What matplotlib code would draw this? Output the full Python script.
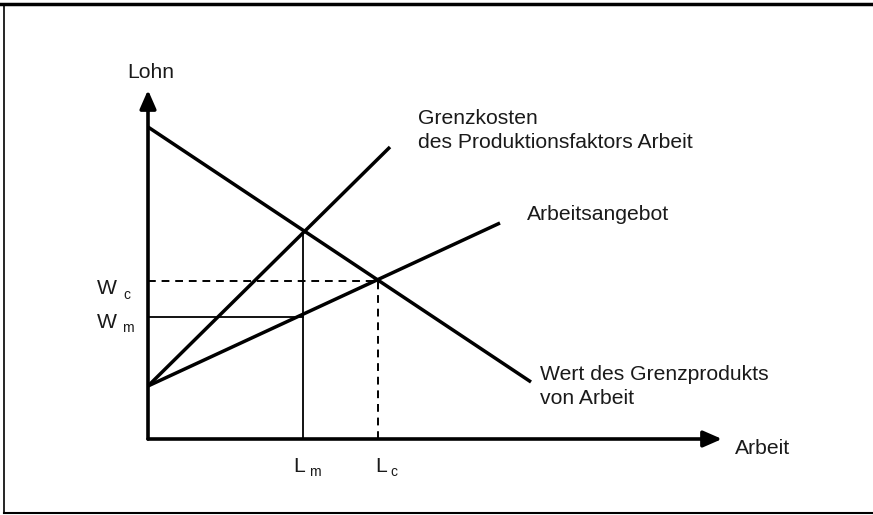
import matplotlib.pyplot as plt
from matplotlib.lines import Line2D

plt.rcParams['font.family'] = ['Liberation Sans', 'DejaVu Sans']

# curve end points (arbitrary units, origin at the axis corner)
demand_x = [0, 383]
demand_y = [312, 57]
supply_x = [0, 352]
supply_y = [53, 216]
mc_x = [0, 242]
mc_y = [53, 292]

L_m, L_c = 155, 230
W_m, W_c = 122, 158
mc_at_Lm = 209

x_end = 574
y_end = 349

fig = plt.figure(figsize=(8.73, 5.15), dpi=100)
ax = fig.add_axes([0, 0, 1, 1])
ax.set_xlim(-148, 725)
ax.set_ylim(-76, 439)
ax.axis("off")

# outer frame (top, left, bottom)
fig.add_artist(Line2D([0, 1], [0.992, 0.992], transform=fig.transFigure, color="black", lw=2.5))
fig.add_artist(Line2D([0.005, 0.005], [0.004, 0.992], transform=fig.transFigure, color="black", lw=1.2))
fig.add_artist(Line2D([0.005, 1], [0.004, 0.004], transform=fig.transFigure, color="black", lw=1.5))

# axes with arrows
arrow = dict(arrowstyle="-|>,head_length=0.8,head_width=0.35", lw=2.6, color="black",
             mutation_scale=14, shrinkA=0, shrinkB=0)
ax.annotate("", xy=(0, y_end), xytext=(0, 0), arrowprops=arrow)
ax.annotate("", xy=(x_end, 0), xytext=(0, 0), arrowprops=arrow)

# curves
ax.plot(demand_x, demand_y, color="black", lw=2.5, solid_capstyle="butt")
ax.plot(supply_x, supply_y, color="black", lw=2.5, solid_capstyle="butt")
ax.plot(mc_x, mc_y, color="black", lw=2.5, solid_capstyle="butt")

# monopsony (solid thin lines)
ax.plot([L_m, L_m], [0, mc_at_Lm], color="black", lw=1.3)
ax.plot([0, L_m], [W_m, W_m], color="black", lw=1.3)

# competitive (dashed)
ax.plot([L_c, L_c], [0, W_c], color="black", lw=1.4, dashes=(4, 3))
ax.plot([0, L_c], [W_c, W_c], color="black", lw=1.4, dashes=(4, 3))

tc = "#1a1a1a"
fs = 15.2
ax.text(-21, 366, "Lohn", fontsize=fs, color=tc, ha="left", va="center")
ax.text(587, -9, "Arbeit", fontsize=fs, color=tc, ha="left", va="center")
ax.text(270, 320, "Grenzkosten", fontsize=fs, color=tc, ha="left", va="center")
ax.text(270, 296, "des Produktionsfaktors Arbeit", fontsize=fs, color=tc, ha="left", va="center")
ax.text(379, 224, "Arbeitsangebot", fontsize=fs, color=tc, ha="left", va="center")
ax.text(392, 64, "Wert des Grenzprodukts", fontsize=fs, color=tc, ha="left", va="center")
ax.text(392, 41, "von Arbeit", fontsize=fs, color=tc, ha="left", va="center")

# W labels with subscripts
ax.text(-51, W_c - 7, "W", fontsize=fs, color=tc, ha="left", va="center")
ax.text(-25, W_c - 14, "c", fontsize=10, color=tc, ha="left", va="center")
ax.text(-51, W_m - 5, "W", fontsize=fs, color=tc, ha="left", va="center")
ax.text(-26, W_m - 11, "m", fontsize=10, color=tc, ha="left", va="center")

# L labels with subscripts
ax.text(L_m - 10, -28, "L", fontsize=fs, color=tc, ha="left", va="center")
ax.text(L_m + 6, -33, "m", fontsize=10, color=tc, ha="left", va="center")
ax.text(L_c - 3, -28, "L", fontsize=fs, color=tc, ha="left", va="center")
ax.text(L_c + 12, -33, "c", fontsize=10, color=tc, ha="left", va="center")

fig.savefig("out.png", dpi=100)
